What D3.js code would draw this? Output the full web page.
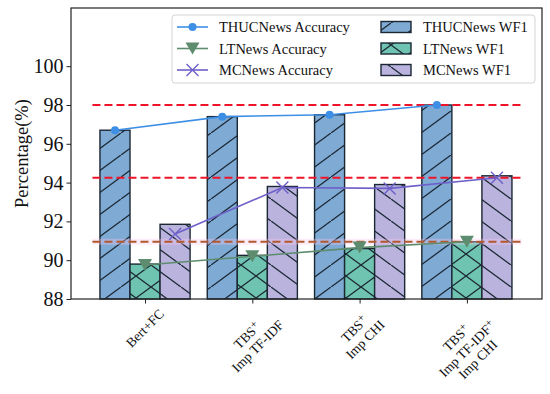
<!DOCTYPE html>
<html><head><meta charset="utf-8">
<script src="https://cdn.jsdelivr.net/npm/d3@7"></script>
<style>body{margin:0;background:#fff;} svg{display:block;font-family:"Liberation Serif","Times New Roman",serif;}</style>
</head><body><svg id="c" width="550" height="394"></svg>
<script>
const categories = [["Bert+FC"], ["TBS+", "Imp TF-IDF"], ["TBS+", "Imp CHI"], ["TBS+", "Imp TF-IDF+", "Imp CHI"]];
const thucWF1 = [96.7, 97.4, 97.5, 98.0];
const ltWF1 = [89.8, 90.25, 90.6, 90.95];
const mcWF1 = [91.85, 93.8, 93.9, 94.35];
const thucAcc = [96.7, 97.4, 97.5, 98.0];
const ltAcc = [89.75, 90.2, 90.65, 90.95];
const mcAcc = [91.35, 93.75, 93.7, 94.25];
const refLines = [98.0, 94.25, 90.95];
const yTicks = [88, 90, 92, 94, 96, 98, 100];

const svg = d3.select("#c");
const L = 71, R = 542, T = 8, B = 299;
const x = d3.scaleLinear().domain([-0.69, 3.70]).range([L, R]);
const y = d3.scaleLinear().domain([88, 103]).range([B, T]);
const bw = 0.28;

const defs = svg.append("defs");
function pattern(id, paths) {
  const p = defs.append("pattern").attr("id", id).attr("patternUnits", "userSpaceOnUse")
    .attr("width", 30).attr("height", 22).attr("x", 1).attr("y", 1);
  paths.forEach(d => p.append("path").attr("d", d).attr("stroke", "#1b2733").attr("stroke-width", 1.3).attr("fill", "none"));
}
pattern("hSlash", ["M-3,24.2 L33,-2.2"]);
pattern("hBack", ["M-3,-2.2 L33,24.2"]);
pattern("hCross", ["M-3,24.2 L33,-2.2", "M-3,-2.2 L33,24.2"]);

const series = [
  {vals: thucWF1, off: -bw, fill: "#7eaad4", hatch: "hSlash"},
  {vals: ltWF1, off: 0, fill: "#6fc4b1", hatch: "hCross"},
  {vals: mcWF1, off: bw, fill: "#bab3de", hatch: "hBack"}
];
const g = svg.append("g");
series.forEach(s => {
  const gg = g.append("g");
  gg.selectAll("rect.f").data(s.vals).join("rect").attr("class", "f")
    .attr("x", (d, i) => x(i + s.off - bw / 2)).attr("width", x(bw) - x(0))
    .attr("y", d => y(d)).attr("height", d => B - y(d)).attr("fill", s.fill);
  gg.selectAll("rect.h").data(s.vals).join("rect").attr("class", "h")
    .attr("x", (d, i) => x(i + s.off - bw / 2)).attr("width", x(bw) - x(0))
    .attr("y", d => y(d)).attr("height", d => B - y(d)).attr("fill", "url(#" + s.hatch + ")")
    .attr("stroke", "#1b2733").attr("stroke-width", 1.4);
});

// reference dashed lines
const rl = svg.append("g");
refLines.forEach((v, i) => {
  if (i === 2) rl.append("line").attr("x1", x(-0.49)).attr("x2", x(3.51)).attr("y1", y(v)).attr("y2", y(v))
    .attr("stroke", "#f6c8ee").attr("stroke-opacity", 0.35).attr("stroke-width", 6);
  rl.append("line").attr("x1", x(-0.49)).attr("x2", x(3.51)).attr("y1", y(v)).attr("y2", y(v))
    .attr("stroke", i === 2 ? "#b0592f" : "#f0142a").attr("stroke-width", 2).attr("stroke-dasharray", "8,4");
});

// accuracy lines
const accs = [
  {vals: thucAcc, color: "#3d8fe6", off: -bw, marker: "o"},
  {vals: ltAcc, color: "#5e8c6e", off: 0, marker: "v"},
  {vals: mcAcc, color: "#6e60c9", off: bw, marker: "x"}
];
function drawMarker(sel, type, color, cx, cy) {
  if (type === "o") sel.append("circle").attr("cx", cx).attr("cy", cy).attr("r", 4).attr("fill", color);
  else if (type === "v") sel.append("path").attr("d", `M${cx - 7},${cy - 6} L${cx + 7},${cy - 6} L${cx},${cy + 6} Z`).attr("fill", color);
  else sel.append("path").attr("d", `M${cx - 6},${cy - 6} L${cx + 6},${cy + 6} M${cx - 6},${cy + 6} L${cx + 6},${cy - 6}`)
    .attr("stroke", color).attr("stroke-width", 1.4).attr("fill", "none");
}
accs.forEach(a => {
  const lg = d3.line().x((d, i) => x(i + a.off)).y(d => y(d));
  svg.append("path").datum(a.vals).attr("d", lg).attr("fill", "none").attr("stroke", a.color).attr("stroke-width", 1.6);
  const mg = svg.append("g");
  a.vals.forEach((v, i) => drawMarker(mg, a.marker, a.color, x(i + a.off), y(v)));
});

// frame
svg.append("rect").attr("x", L).attr("y", T).attr("width", R - L).attr("height", B - T)
  .attr("fill", "none").attr("stroke", "#222").attr("stroke-width", 1.2);

// y axis
const ya = svg.append("g").attr("transform", `translate(${L},0)`)
  .call(d3.axisLeft(y).tickValues(yTicks).tickSize(4.5).tickPadding(3).tickFormat(d3.format("d")));
ya.select(".domain").remove();
ya.selectAll("line").attr("stroke", "#222");
ya.selectAll("text").attr("font-size", 20).attr("fill", "#111").attr("font-family", "Liberation Serif");

// x axis ticks
const xa = svg.append("g").attr("transform", `translate(0,${B})`)
  .call(d3.axisBottom(x).tickValues([0, 1, 2, 3]).tickSize(4.5).tickFormat(""));
xa.select(".domain").remove();
xa.selectAll("line").attr("stroke", "#222");

// x labels rotated 45
const fs = 13.5, lh = 15.5, labTop = 306, c45 = Math.SQRT1_2;
const labG = svg.append("g").attr("class", "xlabels");
categories.forEach((lines, i) => {
  const H = lines.length * lh;
  const txts = lines.map((t, k) => {
    const te = labG.append("text").attr("font-size", fs).attr("text-anchor", "middle")
      .attr("dominant-baseline", "central").attr("fill", "#111");
    if (t.endsWith("+")) {
      te.append("tspan").text(t.slice(0, -1));
      te.append("tspan").text("+").attr("font-size", fs * 0.85).attr("dy", -3);
    } else te.text(t);
    return te;
  });
  let w = d3.max(txts, t => t.node().getComputedTextLength());
  if (!isFinite(w)) w = 60;
  const cx = x(i), cy = labTop + c45 * (w + H) / 2;
  txts.forEach((te, k) => {
    const yk = -H / 2 + (k + 0.5) * lh;
    const px = cx + c45 * yk, py = cy + c45 * yk;
    te.attr("transform", `translate(${px.toFixed(2)},${py.toFixed(2)}) rotate(-45)`);
  });
});

// y label
svg.append("text").attr("transform", `translate(22,${(T + B) / 2}) rotate(-90)`)
  .attr("text-anchor", "middle").attr("dominant-baseline", "central").attr("font-size", 18.5).attr("fill", "#111")
  .text("Percentage(%)");

// legend
const lgd = svg.append("g");
lgd.append("rect").attr("x", 172).attr("y", 15).attr("width", 363).attr("height", 68).attr("rx", 3)
  .attr("fill", "#fff").attr("fill-opacity", 0.85).attr("stroke", "#d4d4d4").attr("stroke-width", 1);
const rows = [27, 48.5, 70];
const accNames = ["THUCNews Accuracy", "LTNews Accuracy", "MCNews Accuracy"];
const wfNames = ["THUCNews WF1", "LTNews WF1", "MCNews WF1"];
accs.forEach((a, k) => {
  lgd.append("line").attr("x1", 177).attr("x2", 208).attr("y1", rows[k]).attr("y2", rows[k]).attr("stroke", a.color).attr("stroke-width", 1.6);
  drawMarker(lgd, a.marker, a.color, 192.5, rows[k]);
  lgd.append("text").attr("x", 219).attr("y", rows[k]).attr("dominant-baseline", "central").attr("font-size", 14.5).attr("fill", "#111").text(accNames[k]);
});
series.forEach((s, k) => {
  lgd.append("rect").attr("x", 381).attr("y", rows[k] - 5.5).attr("width", 30).attr("height", 11).attr("fill", s.fill);
  lgd.append("rect").attr("x", 381).attr("y", rows[k] - 5.5).attr("width", 30).attr("height", 11)
    .attr("fill", "url(#" + s.hatch + ")").attr("stroke", "#1b2733").attr("stroke-width", 1.4);
  lgd.append("text").attr("x", 423).attr("y", rows[k]).attr("dominant-baseline", "central").attr("font-size", 14.5).attr("fill", "#111").text(wfNames[k]);
});
</script></body></html>
